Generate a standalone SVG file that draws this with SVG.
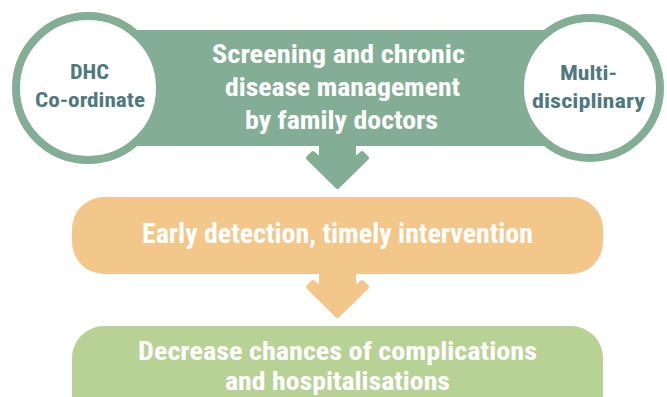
<svg xmlns="http://www.w3.org/2000/svg" width="667" height="397" viewBox="0 0 667 397">
<style>
.t{font-family:"Liberation Sans Narrow","Roboto Condensed","DejaVu Sans Condensed","Roboto","Liberation Sans",sans-serif;font-stretch:condensed;font-weight:bold;text-anchor:middle}
.w{fill:#ffffff}
.c{fill:#4f797d}
.ring{fill:#ffffff;stroke:#83ae95;stroke-width:8}
</style>
<rect width="667" height="397" fill="#ffffff"/>
<g id="connectors">
<path d="M321,140 L354,140 L354,160 L362,153 L367,158 L337.5,187 L308,158 L313,153 L321,160 Z" fill="#83ae95" stroke="#83ae95" stroke-width="4" stroke-linejoin="round"/>
<path d="M321,268 L354,268 L354,289 L362,282 L367,287 L337.5,316 L308,287 L313,282 L321,289 Z" fill="#f3c689" stroke="#f3c689" stroke-width="4" stroke-linejoin="round"/>
</g>
<g id="banner">
<rect x="120" y="30" width="470" height="116" fill="#83ae95"/>
<text class="t w" font-size="25" x="338.5" y="63" textLength="253" lengthAdjust="spacingAndGlyphs">Screening and chronic</text>
<text class="t w" font-size="25" x="342.5" y="96" textLength="235" lengthAdjust="spacingAndGlyphs">disease management</text>
<text class="t w" font-size="25" x="341.5" y="129" textLength="193" lengthAdjust="spacingAndGlyphs">by family doctors</text>
</g>
<g id="dhc">
<circle class="ring" cx="88" cy="88" r="72"/>
<text class="t c" font-size="20" x="89.5" y="79" textLength="39" lengthAdjust="spacingAndGlyphs">DHC</text>
<text class="t c" font-size="20" x="90" y="107" textLength="110" lengthAdjust="spacingAndGlyphs">Co-ordinate</text>
</g>
<g id="multi">
<circle class="ring" cx="590" cy="88" r="70"/>
<text class="t c" font-size="20" x="588.5" y="80" textLength="57" lengthAdjust="spacingAndGlyphs">Multi-</text>
<text class="t c" font-size="20" x="588.5" y="108" textLength="113" lengthAdjust="spacingAndGlyphs">disciplinary</text>
</g>
<g id="early">
<rect x="72" y="197" width="531" height="77" rx="32" ry="32" fill="#f3c689"/>
<text class="t w" font-size="27" x="337.5" y="243" textLength="391" lengthAdjust="spacingAndGlyphs">Early detection, timely intervention</text>
</g>
<g id="decrease">
<rect x="72" y="326" width="531" height="110" rx="32" ry="32" fill="#b8d296"/>
<text class="t w" font-size="25" x="337.5" y="360" textLength="399" lengthAdjust="spacingAndGlyphs">Decrease chances of complications</text>
<text class="t w" font-size="25" x="337.5" y="390" textLength="225" lengthAdjust="spacingAndGlyphs">and hospitalisations</text>
</g>
</svg>
